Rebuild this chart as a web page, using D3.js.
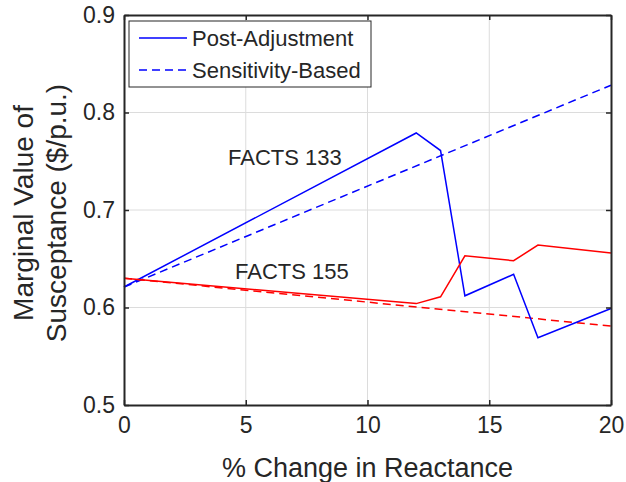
<!DOCTYPE html>
<html>
<head>
<meta charset="utf-8">
<script src="https://cdn.jsdelivr.net/npm/d3@7"></script>
<style>
  body { margin: 0; background: #fff; }
  svg text { font-family: "Liberation Sans", Arial, Helvetica, sans-serif; fill: #262626; }
</style>
</head>
<body>
<div id="chart"></div>
<script>
// values
var xTicks = [0, 5, 10, 15, 20];
var yTicks = [0.5, 0.6, 0.7, 0.8, 0.9];

var postX = [0, 12, 13, 14, 16, 17, 20];
var post133 = [0.621, 0.779, 0.761, 0.612, 0.634, 0.569, 0.599];
var post155 = [0.630, 0.604, 0.611, 0.653, 0.648, 0.664, 0.656];

var sensX = [0, 20];
var sens133 = [0.621, 0.828];
var sens155 = [0.630, 0.581];

var legendLabels = ["Post-Adjustment", "Sensitivity-Based"];

var margin = { top: 15, left: 124 },
    width = 487,
    height = 390;

var svg = d3.select("#chart").append("svg")
    .attr("width", 626)
    .attr("height", 482)
    .append("g")
    .attr("transform", "translate(" + margin.left + "," + margin.top + ")");

var x = d3.scaleLinear().domain([0, 20]).range([0, width]);
var y = d3.scaleLinear().domain([0.5, 0.9]).range([height, 0]);

// grid
svg.append("g").selectAll("line")
    .data(xTicks.slice(1, -1)).enter().append("line")
    .attr("x1", d => x(d)).attr("x2", d => x(d))
    .attr("y1", 0).attr("y2", height)
    .attr("stroke", "#dcdcdc").attr("stroke-width", 1);
svg.append("g").selectAll("line")
    .data(yTicks.slice(1, -1)).enter().append("line")
    .attr("y1", d => y(d)).attr("y2", d => y(d))
    .attr("x1", 0).attr("x2", width)
    .attr("stroke", "#dcdcdc").attr("stroke-width", 1);

function pts(xs, ys) { return xs.map((v, i) => [v, ys[i]]); }
var line = d3.line().x(d => x(d[0])).y(d => y(d[1]));

var series = [
    { data: pts(sensX, sens133), color: "#0000ff", dash: "8,5" },
    { data: pts(sensX, sens155), color: "#ff0000", dash: "8,5" },
    { data: pts(postX, post133), color: "#0000ff", dash: null },
    { data: pts(postX, post155), color: "#ff0000", dash: null }
];
series.forEach(s => {
    svg.append("path")
        .attr("d", line(s.data))
        .attr("fill", "none")
        .attr("stroke", s.color)
        .attr("stroke-width", 1.5)
        .attr("stroke-dasharray", s.dash);
});

// axes, box with inward ticks
var xAxis = svg.append("g")
    .attr("transform", "translate(0," + height + ")")
    .call(d3.axisBottom(x).tickValues(xTicks).tickSizeInner(-5).tickSizeOuter(0).tickPadding(12));
var yAxis = svg.append("g")
    .call(d3.axisLeft(y).tickValues(yTicks).tickFormat(d3.format(".1f")).tickSizeInner(-5).tickSizeOuter(0).tickPadding(9));
var yAxisR = svg.append("g")
    .attr("transform", "translate(" + width + ",0)")
    .call(d3.axisRight(y).tickValues(yTicks).tickFormat("").tickSizeInner(-5).tickSizeOuter(0));
var xAxisT = svg.append("g")
    .call(d3.axisTop(x).tickValues(xTicks).tickFormat("").tickSizeInner(-5).tickSizeOuter(0));
[xAxis, yAxis, yAxisR, xAxisT].forEach(a => {
    a.selectAll("path").attr("stroke", "#262626").attr("stroke-width", 2);
    a.selectAll("line").attr("stroke", "#262626").attr("stroke-width", 1.5);
    a.selectAll("text").style("font-size", "23px").attr("fill", "#262626")
        .style("font-family", "'Liberation Sans', Arial, sans-serif");
});

// axis titles
svg.append("text")
    .attr("x", width / 2).attr("y", height + 72)
    .attr("text-anchor", "middle")
    .style("font-size", "27px")
    .text("% Change in Reactance");
var yt = svg.append("text")
    .attr("transform", "translate(-91," + (height / 2 + 3) + ") rotate(-90)")
    .attr("text-anchor", "middle")
    .style("font-size", "28px");
yt.append("tspan").attr("x", 0).attr("dy", 0).text("Marginal Value of");
yt.append("tspan").attr("x", 0).attr("dy", 33).text("Susceptance ($/p.u.)");

// annotations
svg.append("text").attr("x", 104).attr("y", 150)
    .style("font-size", "22px").attr("fill", "#000").text("FACTS 133");
svg.append("text").attr("x", 111).attr("y", 264)
    .style("font-size", "22px").attr("fill", "#000").text("FACTS 155");

// legend
var lg = svg.append("g").attr("transform", "translate(5,6)");
lg.append("rect").attr("width", 242).attr("height", 66)
    .attr("fill", "#fff").attr("stroke", "#262626").attr("stroke-width", 1);
legendLabels.forEach((t, i) => {
    var yy = 17 + i * 32;
    lg.append("line").attr("x1", 10).attr("x2", 58).attr("y1", yy).attr("y2", yy)
        .attr("stroke", "#0000ff").attr("stroke-width", 1.5)
        .attr("stroke-dasharray", i == 1 ? "8,5" : null);
    lg.append("text").attr("x", 63).attr("y", yy + 7.5)
        .style("font-size", "22px").attr("fill", "#000").text(t);
});
</script>
</body>
</html>
